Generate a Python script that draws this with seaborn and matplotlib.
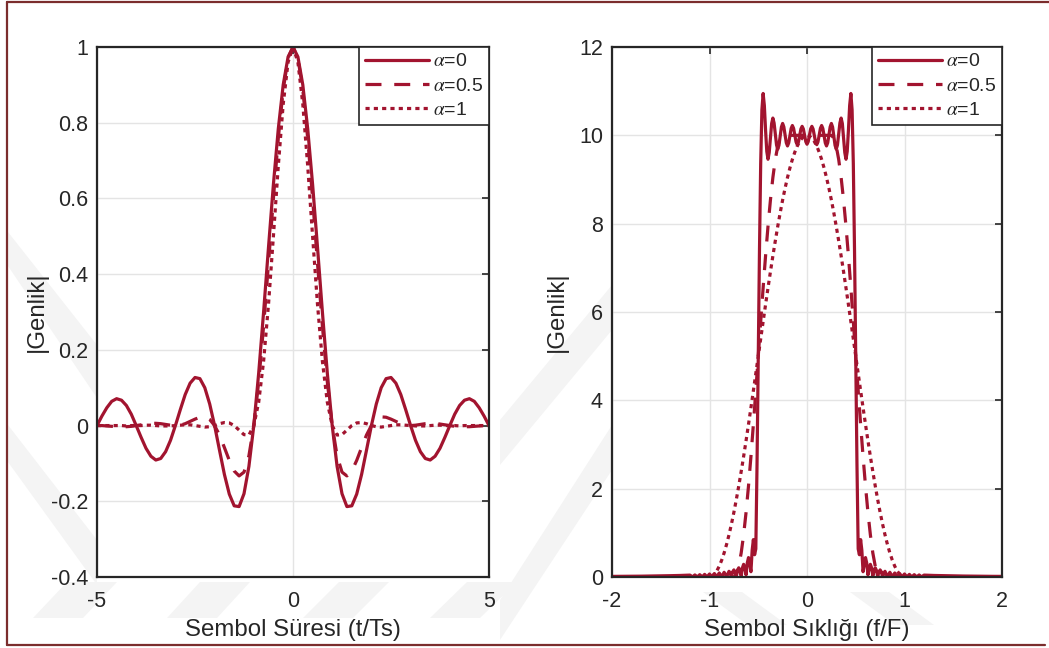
import numpy as np
import pandas as pd
import matplotlib
matplotlib.use("Agg")
import matplotlib.pyplot as plt
from matplotlib.patches import Polygon
from matplotlib.lines import Line2D
import seaborn as sns

# ---------------- data ----------------
labels = [r"$\alpha$=0", r"$\alpha$=0.5", r"$\alpha$=1"]

# left panel: time axis t/Ts, samples every 0.125
t = np.linspace(-5, 5, 81)
h_a0 = [0, 0.025, 0.047, 0.064, 0.071, 0.067, 0.053, 0.030, 0, -0.031, -0.060, -0.081, -0.091, -0.087, -0.069, -0.039,
        0, 0.042, 0.082, 0.112, 0.127, 0.124, 0.100, 0.057, 0, -0.065, -0.129, -0.181, -0.212, -0.214, -0.180, -0.108,
        0, 0.139, 0.300, 0.471, 0.637, 0.784, 0.900, 0.974,
        1.0,
        0.974, 0.900, 0.784, 0.637, 0.471, 0.300, 0.139, 0, -0.108, -0.180, -0.214, -0.212, -0.181, -0.129, -0.065,
        0, 0.057, 0.100, 0.124, 0.127, 0.112, 0.082, 0.042, 0, -0.039, -0.069, -0.087, -0.091, -0.081, -0.060, -0.031,
        0, 0.030, 0.053, 0.067, 0.071, 0.064, 0.047, 0.025, 0]
h_a05 = [0, 0.000, -0.001, -0.002, -0.003, -0.003, -0.003, -0.002, 0, 0.002, 0.004, 0.006, 0.006, 0.005, 0.003, 0.001,
         0, 0.001, 0.005, 0.011, 0.017, 0.022, 0.023, 0.016, 0, -0.025, -0.058, -0.092, -0.120, -0.133, -0.123, -0.080,
         0, 0.116, 0.263, 0.429, 0.600, 0.759, 0.887, 0.971,
         1.0,
         0.971, 0.887, 0.759, 0.600, 0.429, 0.263, 0.116, 0, -0.080, -0.123, -0.133, -0.120, -0.092, -0.058, -0.025,
         0, 0.016, 0.023, 0.022, 0.017, 0.011, 0.005, 0.001, 0, 0.001, 0.003, 0.005, 0.006, 0.006, 0.004, 0.002,
         0, -0.002, -0.003, -0.003, -0.003, -0.002, -0.001, 0.000, 0]
h_a1 = [0, 0.000, 0.000, 0.000, 0, -0.000, -0.001, -0.000, 0, 0.000, 0.001, 0.001, 0, -0.001, -0.001, -0.001,
        0, 0.001, 0.002, 0.002, 0, -0.002, -0.004, -0.003, 0, 0.005, 0.008, 0.007, 0, -0.012, -0.024, -0.025,
        0, 0.062, 0.170, 0.320, 0.500, 0.686, 0.849, 0.960,
        1.0,
        0.960, 0.849, 0.686, 0.500, 0.320, 0.170, 0.062, 0, -0.025, -0.024, -0.012, 0, 0.007, 0.008, 0.005,
        0, -0.003, -0.004, -0.002, 0, 0.002, 0.002, 0.001, 0, -0.001, -0.001, -0.001, 0, 0.001, 0.001, 0.000,
        0, -0.000, -0.001, -0.000, 0, 0.000, 0.000, 0.000, 0]

# right panel: spectrum, alpha = 0 (sample positions in f/F)
f_pos = np.concatenate([np.arange(1, 65) * 0.0125, 0.8 + np.arange(1, 17) * 0.025, 1.2 + np.arange(1, 9) * 0.1])
f0 = np.concatenate([-f_pos[::-1], [0.0], f_pos])
H_a0 = [0.014, 0.015, 0.017, 0.019, 0.022, 0.025, 0.030, 0.035,
        0.043, 0.002, 0.047, 0.002, 0.053, 0.002, 0.059, 0.003, 0.068, 0.003, 0.078, 0.004, 0.091, 0.005, 0.107, 0.007,
        0.129, 0.090, 0.010, 0.115, 0.161, 0.111, 0.015, 0.149, 0.208, 0.143, 0.025, 0.206, 0.287, 0.195, 0.048, 0.318,
        0.440, 0.292, 0.119, 0.605, 0.847, 0.504, 0.636, 2.548,
        4.949, 7.380, 9.364, 10.576, 10.948, 10.677, 10.118, 9.636, 9.458, 9.610, 9.953, 10.269, 10.391, 10.279, 10.024,
        9.782, 9.686, 9.776, 9.986, 10.188, 10.269, 10.191, 10.009, 9.832, 9.760, 9.829, 9.994, 10.156, 10.222, 10.158,
        10.004, 9.852, 9.789, 9.851, 9.998, 10.144, 10.204, 10.145, 10.001, 9.857,
        9.798,
        9.857, 10.001, 10.145, 10.204, 10.144, 9.998, 9.851, 9.789, 9.852, 10.004, 10.158, 10.222, 10.156, 9.994, 9.829,
        9.760, 9.832, 10.009, 10.191, 10.269, 10.188, 9.986, 9.776, 9.686, 9.782, 10.024, 10.279, 10.391, 10.269, 9.953,
        9.610, 9.458, 9.636, 10.118, 10.677, 10.948, 10.576, 9.364, 7.380, 4.949,
        2.548, 0.636, 0.504, 0.847, 0.605, 0.119, 0.292, 0.440, 0.318, 0.048, 0.195, 0.287, 0.206, 0.025, 0.143, 0.208,
        0.149, 0.015, 0.111, 0.161, 0.115, 0.010, 0.090, 0.129,
        0.007, 0.107, 0.005, 0.091, 0.004, 0.078, 0.003, 0.068, 0.003, 0.059, 0.002, 0.053, 0.002, 0.047, 0.002, 0.043,
        0.035, 0.030, 0.025, 0.022, 0.019, 0.017, 0.015, 0.014]

# right panel: alpha = 0.5 and alpha = 1 (samples every 0.025 in [-1, 1] plus the ends)
f_rc = np.concatenate([[-2.0], np.linspace(-1, 1, 81), [2.0]])
H_a05 = [0,
         0, 0, 0, 0, 0, 0, 0, 0, 0, 0, 0, 0.062, 0.245, 0.545, 0.955, 1.464, 2.061, 2.730, 3.455, 4.218, 5.000,
         5.782, 6.545, 7.270, 7.939, 8.536, 9.045, 9.455, 9.755, 9.938, 10, 10, 10, 10, 10, 10, 10, 10, 10, 10,
         10,
         10, 10, 10, 10, 10, 10, 10, 10, 10, 10, 9.938, 9.755, 9.455, 9.045, 8.536, 7.939, 7.270, 6.545, 5.782,
         5.000, 4.218, 3.455, 2.730, 2.061, 1.464, 0.955, 0.545, 0.245, 0.062, 0, 0, 0, 0, 0, 0, 0, 0, 0, 0, 0,
         0]
H_a1 = [0,
        0.000, 0.015, 0.062, 0.138, 0.245, 0.381, 0.545, 0.737, 0.955, 1.198, 1.464, 1.753, 2.061, 2.388, 2.730,
        3.087, 3.455, 3.833, 4.218, 4.608, 5.000, 5.392, 5.782, 6.167, 6.545, 6.913, 7.270, 7.612, 7.939, 8.247,
        8.536, 8.802, 9.045, 9.263, 9.455, 9.619, 9.755, 9.862, 9.938, 9.985,
        10.0,
        9.985, 9.938, 9.862, 9.755, 9.619, 9.455, 9.263, 9.045, 8.802, 8.536, 8.247, 7.939, 7.612, 7.270, 6.913,
        6.545, 6.167, 5.782, 5.392, 5.000, 4.608, 4.218, 3.833, 3.455, 3.087, 2.730, 2.388, 2.061, 1.753, 1.464,
        1.198, 0.955, 0.737, 0.545, 0.381, 0.245, 0.138, 0.062, 0.015, 0.000,
        0]

left_yticks = [-0.4, -0.2, 0, 0.2, 0.4, 0.6, 0.8, 1]
left_yticklabels = ["-0.4", "-0.2", "0", "0.2", "0.4", "0.6", "0.8", "1"]
left_xticks = [-5, 0, 5]
right_xticks = [-2, -1, 0, 1, 2]
right_yticks = [0, 2, 4, 6, 8, 10, 12]

# ---------------- style ----------------
sns.set_theme(style="white")
plt.rcParams["font.family"] = ["Liberation Sans", "DejaVu Sans"]
plt.rcParams["mathtext.fontset"] = "stix"
plt.rcParams["axes.unicode_minus"] = False

RED = "#A2142F"
DARK = "#262626"
W, Hpx = 1049, 648

fig = plt.figure(figsize=(W / 100, Hpx / 100), dpi=100)
fig.patch.set_facecolor("white")


def px(x, y):
    return (x / W, 1 - y / Hpx)


# faint watermark stripes
wm_color = "#f4f4f4"
stripes = [
    [(8, 232), (8, 266), (97, 398), (97, 345)],
    [(8, 425), (8, 462), (97, 585), (97, 540)],
    [(33, 618), (83, 618), (117, 582), (67, 582)],
    [(167, 618), (217, 618), (250, 582), (200, 582)],
    [(303, 618), (353, 618), (389, 582), (339, 582)],
    [(430, 618), (480, 618), (517, 582), (467, 582)],
    [(500, 420), (500, 465), (612, 330), (612, 285)],
    [(500, 600), (500, 640), (612, 470), (612, 425)],
    [(703, 592), (742, 592), (787, 625), (748, 625)],
    [(850, 592), (889, 592), (934, 625), (895, 625)],
]
for s in stripes:
    fig.add_artist(Polygon([px(*p) for p in s], closed=True, transform=fig.transFigure,
                           facecolor=wm_color, edgecolor="none", zorder=0))

# page frame
fc = "#7B2D2D"
fig.add_artist(Line2D([7 / W, 1.0], [1 - 1.5 / Hpx] * 2, transform=fig.transFigure, color=fc, lw=1.6, zorder=5))
fig.add_artist(Line2D([7 / W] * 2, [1 - 1.5 / Hpx, 1 - 645 / Hpx], transform=fig.transFigure, color=fc, lw=1.6, zorder=5))
fig.add_artist(Line2D([7 / W, 1045 / W], [1 - 645 / Hpx] * 2, transform=fig.transFigure, color=fc, lw=1.6, zorder=5))

axL = fig.add_axes([97 / W, 1 - 577 / Hpx, 392 / W, 530 / Hpx])
axR = fig.add_axes([612 / W, 1 - 577 / Hpx, 390 / W, 530 / Hpx])

styles = ["-", (0, (5, 4)), (0, (1.3, 1.3))]
LW = 2.3

dfL = pd.DataFrame({"t": t, "a0": h_a0, "a05": h_a05, "a1": h_a1})
for col, ls, lab in zip(["a0", "a05", "a1"], styles, labels):
    sns.lineplot(data=dfL, x="t", y=col, ax=axL, color=RED, lw=LW, linestyle=ls,
                 dash_capstyle="butt", label=lab)

df0 = pd.DataFrame({"f": f0, "H": H_a0})
dfrc = pd.DataFrame({"f": f_rc, "a05": H_a05, "a1": H_a1})
sns.lineplot(data=df0, x="f", y="H", ax=axR, color=RED, lw=LW, linestyle=styles[0], label=labels[0])
sns.lineplot(data=dfrc, x="f", y="a05", ax=axR, color=RED, lw=LW, linestyle=styles[1],
             dash_capstyle="butt", label=labels[1])
sns.lineplot(data=dfrc, x="f", y="a1", ax=axR, color=RED, lw=LW, linestyle=styles[2],
             dash_capstyle="butt", label=labels[2])


def style_ax(ax, xlabel, ylpad):
    ax.set_facecolor("none")
    ax.set_zorder(2)
    for sp in ax.spines.values():
        sp.set_visible(True)
        sp.set_color(DARK)
        sp.set_linewidth(1.6)
    ax.tick_params(direction="in", length=5, width=1.2, top=True, right=True,
                   labelsize=15.5, colors=DARK)
    ax.tick_params(axis="x", pad=10)
    ax.tick_params(axis="y", pad=6.5)
    ax.grid(True, color="#e4e4e4", lw=1.0)
    ax.set_axisbelow(True)
    ax.set_xlabel(xlabel, fontsize=17.3, color=DARK, labelpad=5)
    ax.set_ylabel("|Genlik|", fontsize=17.3, color=DARK, labelpad=ylpad)
    leg = ax.legend(loc="upper right", borderaxespad=0, fontsize=14, handlelength=3.3,
                    handletextpad=0.2, borderpad=0.3, labelspacing=0.34, fancybox=False,
                    framealpha=1, edgecolor=DARK)
    leg.get_frame().set_linewidth(1.2)
    for txt in leg.get_texts():
        txt.set_color(DARK)


axL.set_xlim(-5, 5)
axL.set_ylim(-0.4, 1)
axL.set_xticks(left_xticks)
axL.set_xticklabels([str(v) for v in left_xticks])
axL.set_yticks(left_yticks)
axL.set_yticklabels(left_yticklabels)
style_ax(axL, "Sembol Süresi (t/Ts)", 2)

axR.set_xlim(-2, 2)
axR.set_ylim(0, 12)
axR.set_xticks(right_xticks)
axR.set_xticklabels([str(v) for v in right_xticks])
axR.set_yticks(right_yticks)
axR.set_yticklabels([str(v) for v in right_yticks])
style_ax(axR, "Sembol Sıklığı (f/F)", 8)

fig.savefig("out.png", dpi=100, facecolor="white")
